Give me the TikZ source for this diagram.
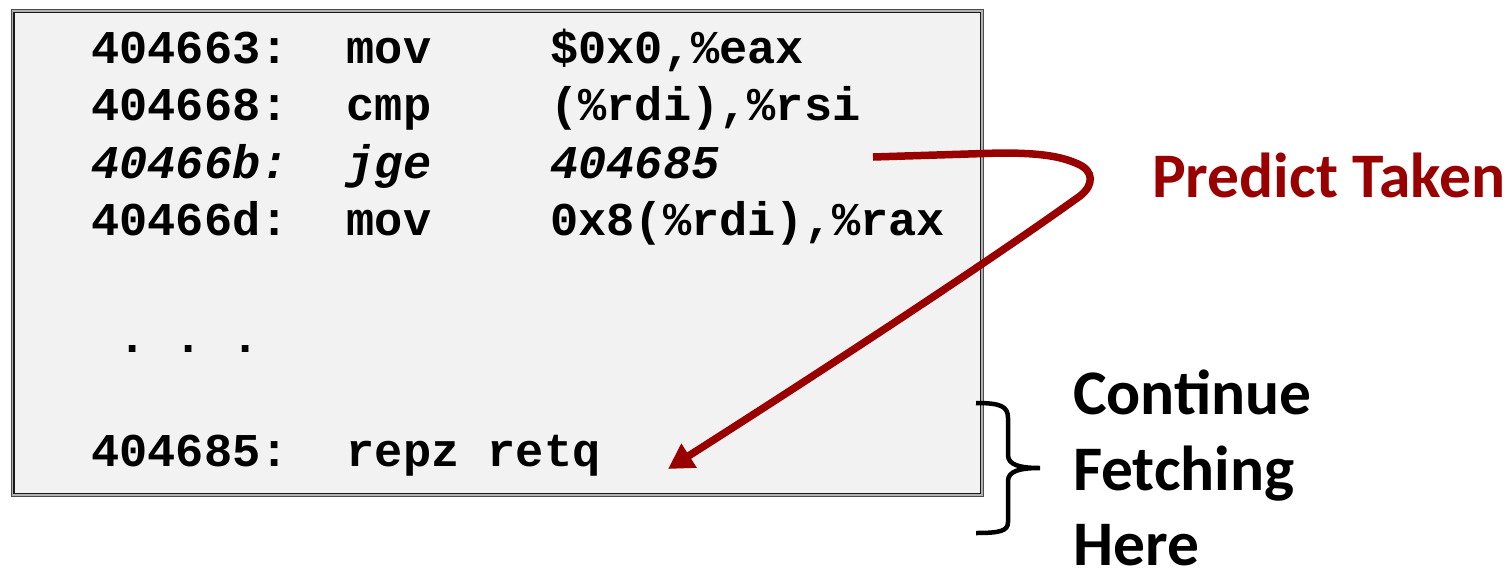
\documentclass[tikz,border=0pt]{standalone}
\usepackage{fontspec}
\setmainfont{Carlito}
\setmonofont{Liberation Mono}
\usetikzlibrary{arrows.meta}
\definecolor{predred}{RGB}{153,0,0}
\definecolor{boxfill}{RGB}{242,242,242}
\tikzset{
  code/.style={font=\ttfamily\bfseries\frenchspacing\fontsize{47}{47}\selectfont, anchor=base west, inner sep=0pt},
  codeit/.style={code, font=\ttfamily\bfseries\itshape\frenchspacing\fontsize{47}{47}\selectfont},
  label/.style={font=\bfseries\fontsize{63.5}{63.5}\selectfont, anchor=base west, inner sep=0pt},
  predarrow/.style={predred, line width=7.5pt, -{Triangle[length=25pt,width=27pt]}},
  bracestyle/.style={black, line width=4.5pt}
}
\begin{document}
\begin{tikzpicture}[x=1pt,y=-1pt]
\useasboundingbox (0,0) rectangle (1507,568);
% code box
\fill[boxfill] (12,10) rectangle (983,496);
\draw[line width=4pt, black!30] (12.75,11) rectangle (982,495);
\draw[line width=1.3pt, black!70] (11.5,9.5) rectangle (983.5,496.5);
\draw[line width=1.3pt, black!90] (14,12.5) rectangle (980.5,493.5);
% rows
\node[code] (r1a) at (91,63) {404663:};
\node[code] (r1b) at (346.5,63) {mov};
\node[code] (r1c) at (550,63) {\$0x0,\%eax};
\node[code] (r2a) at (91,120.5) {404668:};
\node[code] (r2b) at (346.5,120.5) {cmp};
\node[code] (r2c) at (550,120.5) {(\%rdi),\%rsi};
\node[codeit] (r3a) at (91,178) {40466b:};
\node[codeit] (r3b) at (346.5,178) {jge};
\node[codeit] (r3c) at (550,178) {404685};
\node[code] (r4a) at (91,235) {40466d:};
\node[code] (r4b) at (346.5,235) {mov};
\node[code] (r4c) at (550,235) {0x8(\%rdi),\%rax};
\node[code] (dots) at (118.2,352) {.~.~.};
\node[code] (r5a) at (91,466) {404685:};
\node[code] (r5b) at (346.5,466) {repz~retq};
% labels
\node[label, text=predred] (pred) at (1152,197) {Predict Taken};
\node[label] (cont) at (1073,414) {Continue};
\node[label] (fetch) at (1073,490.5) {Fetching};
\node[label, text depth=0pt] (here) at (1073,565.5) {Here};
% arrow
\coordinate (jgeEnd) at (873,157);
\coordinate (retTip) at (668,469);
\draw[predarrow] (jgeEnd) -- (1000,153)
  .. controls (1040,153) and (1060,156) .. (1078,164)
  .. controls (1094,171) and (1094,185) .. (1080,196)
  .. controls (980,268) and (800,385) .. (retTip);
% brace
\coordinate (braceTop) at (976,403);
\coordinate (braceTip) at (1040,468);
\coordinate (braceBot) at (976,533);
\draw[bracestyle] (braceTop) .. controls (1000,403) and (1008,406) .. (1008,418)
  -- (1008,455) .. controls (1008,465) and (1020,468) .. (braceTip)
  .. controls (1020,468) and (1008,471) .. (1008,481)
  -- (1008,522) .. controls (1008,531) and (1000,533) .. (braceBot);
\end{tikzpicture}
\end{document}
